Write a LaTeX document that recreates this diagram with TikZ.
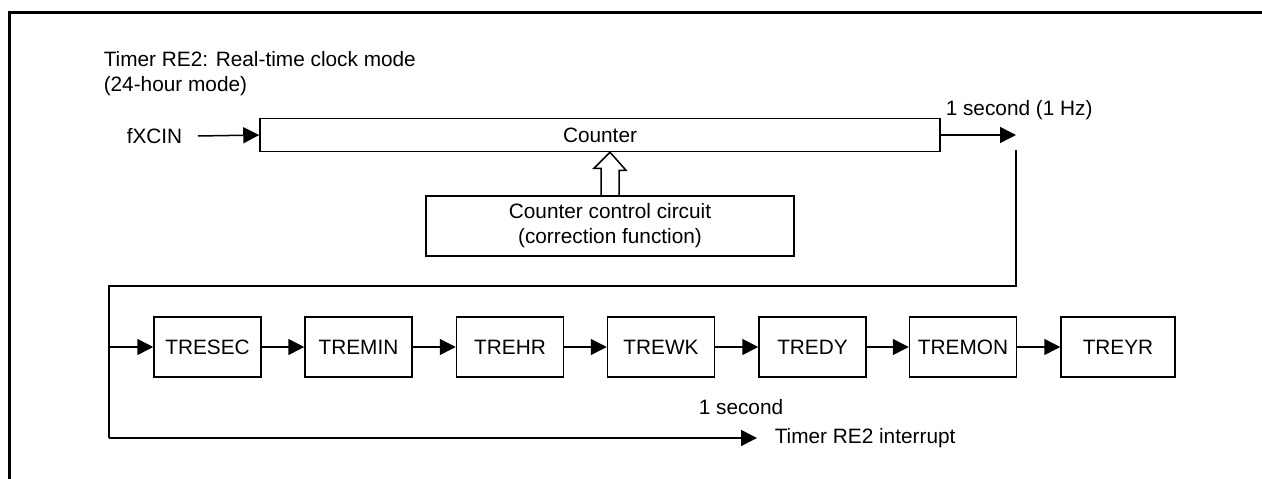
\documentclass[tikz,border=0pt]{standalone}
\usepackage{fontspec}
\setmainfont{Liberation Sans}
\usetikzlibrary{arrows.meta,calc}
\begin{document}
\begin{tikzpicture}[x=1pt,y=-1pt,
  font=\fontsize{20.8}{25}\selectfont,
  line width=1.5pt,
  box/.style={draw,rectangle,minimum width=107pt,minimum height=60pt,inner sep=0pt,line width=1.5pt},
  arr/.style={-{Triangle[length=16pt,width=16pt]},line width=1.5pt},
  lbl/.style={inner sep=0pt}]
\useasboundingbox (0,0) rectangle (1262,479);
% frame
\draw[line width=3pt] (9.5,479) -- (9.5,12) -- (1262,12);
% title
\node[lbl,anchor=north west,align=left] (title) at (103,51) {Timer RE2: Real-time clock mode\\(24-hour mode)};
% counter
\node[draw,rectangle,minimum width=680pt,minimum height=33pt,inner sep=0pt] (counter) at (600,135) {Counter};
\node[lbl,anchor=east] (fxcin) at (183,136) {fXCIN};
\draw[arr] ([xshift=15pt]fxcin.east) -- (counter.west);
% control circuit
\node[draw,rectangle,minimum width=368pt,minimum height=60pt,inner sep=0pt,align=center] (ctrl) at (610,226) {Counter control circuit\\(correction function)};
\draw[line width=1.5pt,line join=miter] ([xshift=-9pt]ctrl.north) -- ++(0,-27) -- ++(-7,0) -- (ctrl.north |- counter.south) -- ++(16,18) -- ++(-7,0) -- ([xshift=9pt]ctrl.north);
% output
\coordinate (o1) at (1016,135);
\draw[arr] (counter.east) -- (o1);
\node[lbl,anchor=west] (onesec) at (945,110) {1 second (1 Hz)};
% register chain
\node[box] (tresec) at (207.5,347) {TRESEC};
\node[box] (tremin) at (358.5,347) {TREMIN};
\node[box] (trehr) at (510,347) {TREHR};
\node[box] (trewk) at (661,347) {TREWK};
\node[box] (tredy) at (812.5,347) {TREDY};
\node[box] (tremon) at (963,347) {TREMON};
\node[box,minimum width=114pt] (treyr) at (1118,347) {TREYR};
\draw[arr] (tresec) -- (tremin);
\draw[arr] (tremin) -- (trehr);
\draw[arr] (trehr) -- (trewk);
\draw[arr] (trewk) -- (tredy);
\draw[arr] (tredy) -- (tremon);
\draw[arr] (tremon) -- (treyr);
% loop
\coordinate (l1) at (1016,150);
\coordinate (l2) at (1016,286);
\coordinate (l3) at (109,286);
\coordinate (l4) at (109,438);
\coordinate (l5) at (757,438);
\draw[line width=1.5pt] (l1) -- (l2) -- (l3) -- (l4);
\draw[arr] (l4) -- (l5);
\draw[arr] (l3 |- tresec.west) -- (tresec.west);
\node[lbl] (sec) at (741,407) {1 second};
\node[lbl,anchor=west] (irq) at (774,438) {Timer RE2 interrupt};
\end{tikzpicture}
\end{document}
